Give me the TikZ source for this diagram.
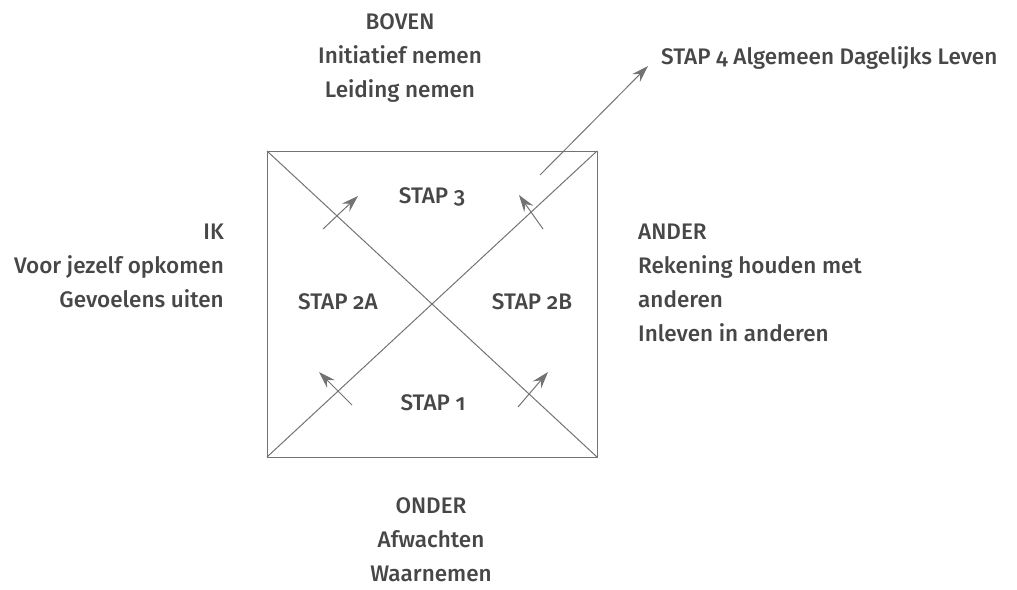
\documentclass[tikz,border=0pt]{standalone}
\usepackage{fontspec}
\setmainfont{Fira Sans}[Numbers=OldStyle,UprightFont={* Medium}]
\usetikzlibrary{arrows.meta}
\definecolor{linegray}{gray}{0.45}
\definecolor{textgray}{gray}{0.28}
\begin{document}
\begin{tikzpicture}[x=1pt,y=-1pt,
  lbl/.style={text=textgray,font=\fontsize{22.5}{34}\selectfont,inner sep=0pt},
  ln/.style={draw=linegray,line width=1pt},
  arr/.style={ln,-{Stealth[length=17pt,width=11pt,inset=6pt]}}]
\useasboundingbox (0,0) rectangle (1017,589);
% square corners
\coordinate (tl) at (267,151);
\coordinate (tr) at (597,151);
\coordinate (br) at (597,457);
\coordinate (bl) at (267,457);
\draw[ln] (tl) -- (tr) -- (br) -- (bl) -- cycle;
\draw[ln] (tl) -- (br);
\draw[ln] (bl) -- (tr);
% step arrows
\coordinate (a1s) at (352,405); \coordinate (a1e) at (319,372);
\coordinate (a2s) at (518,407); \coordinate (a2e) at (548,372);
\coordinate (a3s) at (323,229); \coordinate (a3e) at (358,196);
\coordinate (a4s) at (543,229); \coordinate (a4e) at (519,195);
\coordinate (a5s) at (540,175); \coordinate (a5e) at (648,66);
\draw[arr] (a1s) -- (a1e);
\draw[arr] (a2s) -- (a2e);
\draw[arr] (a3s) -- (a3e);
\draw[arr] (a4s) -- (a4e);
\draw[arr] (a5s) -- (a5e);
% inner labels
\node[lbl] (s3) at (432,197) {STAP 3};
\node[lbl] (s2a) at (338,302) {STAP 2A};
\node[lbl] (s2b) at (532,302) {STAP 2B};
\node[lbl] (s1) at (433,403) {STAP 1};
% outer labels
\node[lbl,anchor=west] (s4) at (661,58) {STAP 4 Algemeen Dagelijks Leven};
\node[lbl,align=center] (boven) at (400,58) {BOVEN\\Initiatief nemen\\Leiding nemen};
\node[lbl,align=center] (onder) at (431,540) {ONDER\\Afwachten\\Waarnemen};
\node[lbl,align=right,anchor=east] (ik) at (224,266) {IK\\Voor jezelf opkomen\\Gevoelens uiten};
\node[lbl,align=left,anchor=west] (ander) at (638,283) {ANDER\\Rekening houden met\\anderen\\Inleven in anderen};
\end{tikzpicture}
\end{document}
